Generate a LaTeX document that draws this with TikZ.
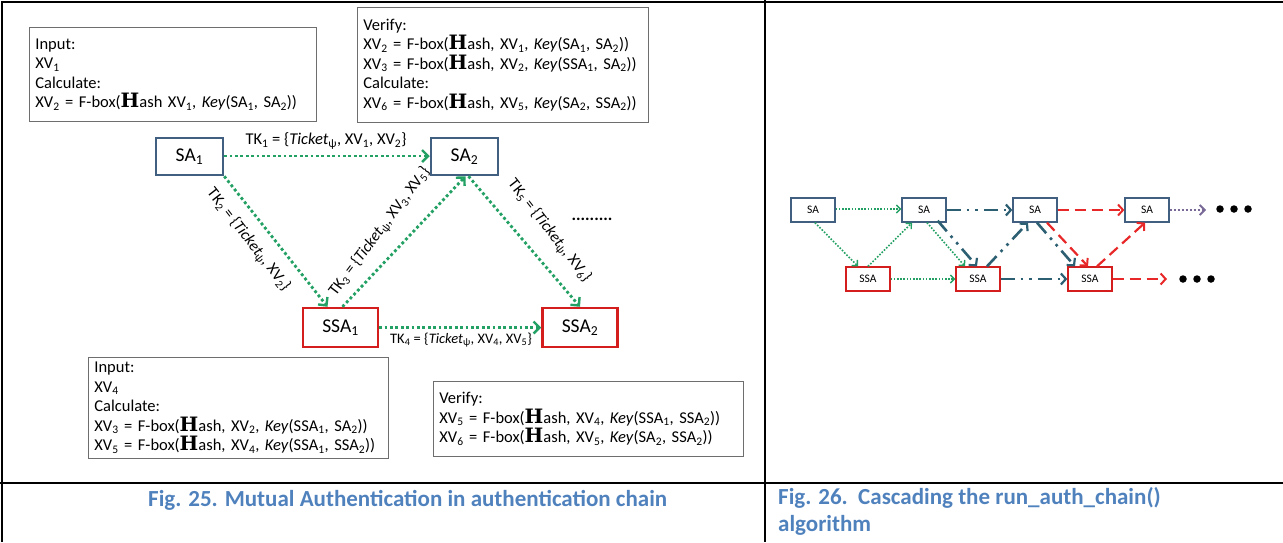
\documentclass[tikz,border=0pt]{standalone}
\usepackage{fontspec}
\usepackage{graphicx}
\setmainfont{Carlito}
\newfontfamily\hfont{DejaVu Serif}
\usetikzlibrary{arrows.meta}
\definecolor{sabl}{RGB}{65,95,128}
\definecolor{ssard}{RGB}{212,30,30}
\definecolor{grn}{RGB}{35,160,100}
\definecolor{tealc}{RGB}{45,95,115}
\definecolor{redc}{RGB}{232,40,40}
\definecolor{purp}{RGB}{120,105,150}
\definecolor{capblue}{RGB}{79,129,189}
\definecolor{boxgray}{RGB}{110,110,110}
\newcommand\lo[1]{\textsubscript{#1}}
\newcommand\HH{\scalebox{1.2}{\hfont\bfseries H}}
\tikzset{
  txtbox/.style={draw=boxgray, line width=0.8pt, fill=white, align=left, anchor=north west,
    inner xsep=6pt, inner ysep=0pt, font=\fontsize{16.5}{19.5}\selectfont},
  sabox/.style={draw=sabl, line width=2.5pt, minimum width=67, minimum height=37, inner sep=0pt,
    font=\fontsize{19.5}{20}\selectfont},
  ssabox/.style={draw=ssard, line width=2.5pt, minimum width=75, minimum height=39, inner sep=0pt,
    font=\fontsize{19.5}{20}\selectfont},
  gdot/.style={draw=grn, line width=2.8pt, dash pattern=on 2.8pt off 2.6pt,
    -{Straight Barb[length=6pt,width=12pt,line width=2.4pt]}},
  tklab/.style={font=\fontsize{16.5}{17}\selectfont, inner sep=1pt},
  rotlab/.style={font=\fontsize{16}{17}\selectfont, inner sep=1pt},
  sasm/.style={draw=sabl, line width=1.3pt, minimum width=44, minimum height=24, inner sep=0pt,
    font=\fontsize{11.5}{12}\selectfont},
  ssasm/.style={draw=ssard, line width=1.3pt, minimum width=44, minimum height=24, inner sep=0pt,
    font=\fontsize{11.5}{12}\selectfont},
  gsm/.style={draw=grn, line width=1.6pt, dash pattern=on 1.6pt off 1.6pt,
    -{Straight Barb[length=4pt,width=8pt,line width=1.4pt]}},
  tsm/.style={draw=tealc, line width=2.6pt, dash pattern=on 14pt off 6pt on 2.6pt off 6pt on 2.6pt off 6pt,
    -{Straight Barb[length=5pt,width=11pt,line width=2.2pt]}},
  rsm/.style={draw=redc, line width=2.2pt, dash pattern=on 11pt off 6pt,
    -{Straight Barb[length=5pt,width=11pt,line width=2pt]}},
  psm/.style={draw=purp, line width=2pt, dash pattern=on 2pt off 2pt,
    -{Straight Barb[length=5pt,width=10pt,line width=1.8pt]}},
  bigdot/.style={circle, fill=black, inner sep=0pt, minimum size=7.5pt},
  captext/.style={text=capblue, font=\bfseries\fontsize{23}{27}\selectfont, inner sep=0pt, align=left}
}
\begin{document}
\begin{tikzpicture}[x=1pt,y=-1pt]
\useasboundingbox (0,0) rectangle (1283,542);
% table frame
\draw[line width=1.6pt] (2,542) -- (2,2) -- (1283,2);
\draw[line width=1.6pt] (765,0) -- (765,542);
\draw[line width=1.6pt] (0,483) -- (1283,483);

% ---------- Fig. 25 ----------
\node[txtbox, text width=275, minimum height=94] (in1) at (29,27)
 {Input:\\XV\lo{1}\\Calculate:\\XV\lo{2} = F-box(\HH ash XV\lo{1}, \textit{Key}(SA\lo{1}, SA\lo{2}))};
\node[txtbox, text width=279, minimum height=115] (ver1) at (357,7)
 {Verify:\\XV\lo{2} = F-box(\HH ash, XV\lo{1}, \textit{Key}(SA\lo{1}, SA\lo{2}))\\
  XV\lo{3} = F-box(\HH ash, XV\lo{2}, \textit{Key}(SSA\lo{1}, SA\lo{2}))\\Calculate:\\
  XV\lo{6} = F-box(\HH ash, XV\lo{5}, \textit{Key}(SA\lo{2}, SSA\lo{2}))};
\node[txtbox, text width=288, minimum height=101] (in2) at (88,357)
 {Input:\\XV\lo{4}\\Calculate:\\XV\lo{3} = F-box(\HH ash, XV\lo{2}, \textit{Key}(SSA\lo{1}, SA\lo{2}))\\
  XV\lo{5} = F-box(\HH ash, XV\lo{4}, \textit{Key}(SSA\lo{1}, SSA\lo{2}))};
\node[txtbox, text width=298, minimum height=75] (ver2) at (433,381)
 {Verify:\\XV\lo{5} = F-box(\HH ash, XV\lo{4}, \textit{Key}(SSA\lo{1}, SSA\lo{2}))\\
  XV\lo{6} = F-box(\HH ash, XV\lo{5}, \textit{Key}(SA\lo{2}, SSA\lo{2}))};

\node[sabox] (SA1) at (189.5,156.5) {SA\lo{1}};
\node[sabox] (SA2) at (464.5,156.5) {SA\lo{2}};
\node[ssabox] (SSA1) at (340.5,327.5) {SSA\lo{1}};
\node[ssabox] (SSA2) at (580,327.5) {SSA\lo{2}};

\draw[gdot] ([yshift=0.5pt]SA1.east) -- ([yshift=0.5pt]SA2.west);
\draw[gdot] (SA1.south east) -- ([xshift=-13pt]SSA1.north);
\draw[gdot] ([xshift=2pt]SSA1.north) -- ([xshift=1pt]SA2.south);
\draw[gdot] ([xshift=4pt]SA2.south) -- (SSA2.north);
\draw[gdot] (SSA1.east) -- (SSA2.west);

\node[tklab] (tk1) at (326,141) {TK\lo{1} = \{\textit{Ticket}\lo{ψ}, XV\lo{1}, XV\lo{2}\}};
\node[rotlab, rotate=-52] (tk2) at (248,240) {TK\lo{2} = \{\textit{Ticket}\lo{ψ}, XV\lo{2}\}};
\node[rotlab, rotate=53] (tk3) at (380,232) {TK\lo{3} = \{\textit{Ticket}\lo{ψ}, XV\lo{3}, XV\lo{5}\}};
\node[rotlab, rotate=-52] (tk5) at (549,231) {TK\lo{5} = \{\textit{Ticket}\lo{ψ}, XV\lo{6}\}};
\node[tklab, font=\fontsize{14.5}{15}\selectfont] (tk4) at (461,340) {TK\lo{4} = \{\textit{Ticket}\lo{ψ}, XV\lo{4}, XV\lo{5}\}};
\node[font=\fontsize{17}{17}\selectfont\bfseries, inner sep=0pt] (more) at (592,219) {.........};

% ---------- Fig. 26 ----------
\node[sasm] (A1) at (813,210) {SA};
\node[sasm] (A2) at (924,210) {SA};
\node[sasm] (A3) at (1035,210) {SA};
\node[sasm] (A4) at (1147,210) {SA};
\node[ssasm] (B1) at (868,279) {SSA};
\node[ssasm] (B2) at (978,279) {SSA};
\node[ssasm] (B3) at (1090,279) {SSA};
\coordinate (E1) at (1206,210);
\coordinate (E2) at (1167,279);

\draw[gsm] ([yshift=1pt]A1.east) -- ([yshift=1pt]A2.west);
\draw[gsm] ([xshift=2pt]A1.south) -- ([xshift=-10pt]B1.north);
\draw[gsm] (B1.north) -- ([xshift=-12pt]A2.south);
\draw[gsm] (B1.east) -- (B2.west);
\draw[gsm] ([xshift=3pt]A2.south) -- ([xshift=-13pt]B2.north);
\draw[tsm] ([xshift=-9pt,yshift=2pt]A2.south east) -- ([xshift=-1pt]B2.north);
\draw[tsm] (A2.east) -- (A3.west);
\draw[tsm] ([xshift=9pt]B2.north) -- ([xshift=-7pt]A3.south);
\draw[tsm] (B2.east) -- (B3.west);
\draw[tsm] ([xshift=2pt]A3.south) -- ([xshift=-15pt]B3.north);
\draw[rsm] ([xshift=12pt]A3.south) -- ([xshift=-2pt]B3.north);
\draw[rsm] (A3.east) -- (A4.west);
\draw[rsm] ([xshift=7pt]B3.north) -- ([xshift=-2pt]A4.south);
\draw[psm] (A4.east) -- (E1);
\draw[rsm] (B3.east) -- (E2);

\node[bigdot] (d1) at (1220,209) {};
\node[bigdot] (d2) at (1234,209) {};
\node[bigdot] (d3) at (1248,209) {};
\node[bigdot] (d4) at (1183,279) {};
\node[bigdot] (d5) at (1197,279) {};
\node[bigdot] (d6) at (1211,279) {};

% ---------- captions ----------
\node[captext, anchor=west] (cap25) at (148,500) {Fig. 25. Mutual Authentication in authentication chain};
\node[captext, anchor=north west] (cap26) at (778,487) {Fig. 26.\ \ Cascading the run\_auth\_chain()\\algorithm};
\end{tikzpicture}
\end{document}
